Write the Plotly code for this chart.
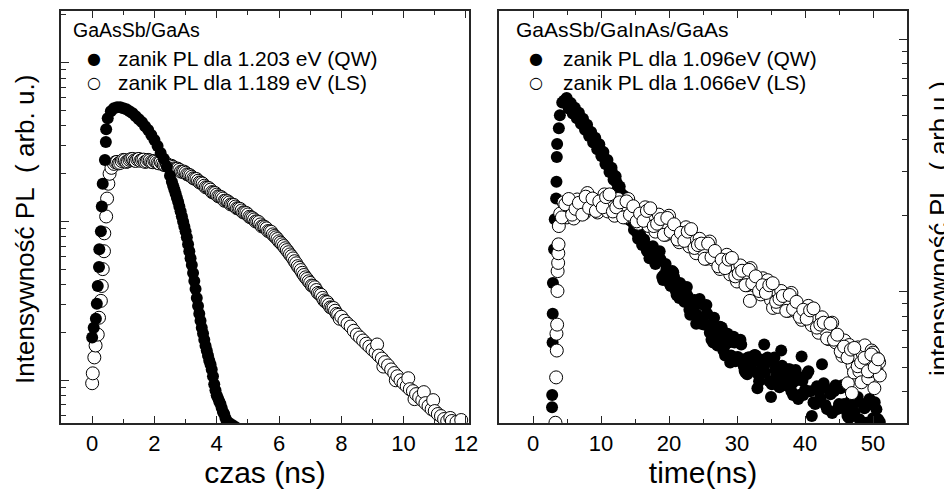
import plotly.graph_objects as go

# ---------------- data ----------------
# Left panel: GaAsSb/GaAs, time in ns, PL intensity in arb. units
left_qw_t = [0.00, 0.05, 0.12, 0.15, 0.18, 0.22, 0.23, 0.28, 0.31, 0.34, 0.41, 0.44, 0.45,
             0.5, 0.6, 0.7, 0.8, 0.9, 1.0, 1.1, 1.2, 1.3, 1.4, 1.5, 1.6, 1.7, 1.8, 1.9, 2.0,
             2.1, 2.2, 2.3, 2.4, 2.5,
             2.56, 2.60, 2.64, 2.68, 2.72, 2.76, 2.80, 2.84, 2.88, 2.92, 2.96, 3.00, 3.04,
             3.08, 3.12, 3.16, 3.20, 3.24, 3.28, 3.32, 3.36, 3.40, 3.44, 3.48, 3.52, 3.56,
             3.60, 3.64, 3.68, 3.72, 3.76, 3.80, 3.84, 3.88, 3.92, 3.96, 4.00, 4.04, 4.08,
             4.12, 4.16, 4.20, 4.24, 4.28, 4.32, 4.40, 4.50, 4.60]
left_qw_i = [18.6, 21.4, 24.4, 30.3, 39.2, 51.6, 66.8, 86.6, 124, 173, 244, 316, 381,
             447, 494, 516, 523, 523, 516, 508, 494, 480, 460, 440, 422, 398, 376, 350, 326,
             299, 270, 248, 221, 194,
             178, 168, 159, 150, 141, 133, 124, 116, 108, 100, 93.1, 86.6, 79.4,
             71.8, 64.9, 58.7, 53.1, 47.3, 42.2, 37.6, 33.0, 29.4, 26.2, 23.7, 21.4, 19.7,
             18.0, 16.5, 15.4, 14.3, 13.3, 12.6, 11.7, 10.6, 9.44, 8.66, 8.06, 7.72, 7.39,
             7.08, 6.68, 6.31, 6.13, 5.79, 5.54, 5.38, 5.23, 5.08]

left_ls_t = [0.00, 0.02, 0.07, 0.11, 0.18, 0.22, 0.28, 0.31, 0.34, 0.38, 0.39, 0.45, 0.48,
             0.52, 0.56, 0.62,
             0.7, 0.75, 0.8, 0.85, 0.9, 0.95, 1.0, 1.05, 1.1, 1.15, 1.2, 1.25, 1.3, 1.35,
             1.4, 1.45, 1.5, 1.55, 1.6, 1.65, 1.7, 1.75, 1.8, 1.85, 1.9, 1.95, 2.0, 2.05,
             2.1, 2.15, 2.2, 2.25, 2.3, 2.35, 2.4, 2.45, 2.5, 2.55, 2.6, 2.65, 2.7, 2.75,
             2.8, 2.85, 2.9, 2.95, 3.0, 3.05, 3.1, 3.15, 3.2, 3.25, 3.3, 3.35, 3.4, 3.45,
             3.5, 3.55, 3.6, 3.65, 3.7, 3.75, 3.8, 3.85, 3.9, 3.95, 4.0, 4.05, 4.1, 4.15,
             4.2, 4.25, 4.3, 4.35, 4.4, 4.45, 4.5, 4.55, 4.6, 4.65, 4.7, 4.75, 4.8, 4.85,
             4.9, 4.95, 5.0, 5.05, 5.1, 5.15, 5.2, 5.25, 5.3, 5.35, 5.4, 5.45, 5.5, 5.55,
             5.6, 5.65, 5.7, 5.75, 5.8, 5.85, 5.9, 5.95, 6.0, 6.05, 6.1, 6.15, 6.2, 6.25,
             6.3, 6.35, 6.4, 6.45, 6.5, 6.55, 6.6, 6.65, 6.7, 6.75, 6.8, 6.85, 6.9, 6.95,
             7.0, 7.05, 7.1, 7.15, 7.2, 7.25, 7.3, 7.35, 7.4, 7.45, 7.5, 7.55, 7.6, 7.65,
             7.7, 7.75, 7.8, 7.85, 7.9, 7.95, 8.0, 8.1, 8.2, 8.3, 8.4, 8.5,
             8.6, 8.7, 8.8, 8.9, 9.0, 9.1, 9.15, 9.2, 9.3, 9.35, 9.4, 9.5, 9.6, 9.7, 9.75,
             9.8, 9.9, 10.0, 10.1, 10.15, 10.2, 10.3, 10.35, 10.4, 10.5, 10.6, 10.65, 10.7,
             10.8, 10.9, 10.95, 11.0, 11.1, 11.2, 11.3, 11.4, 11.5, 11.55, 11.7, 11.85]
left_ls_i = [9.58, 11.06, 13.93, 16.55, 19.39, 24.76, 31.62, 39.24, 50.1, 64.94, 84.2, 107.5,
             139.3, 172.8, 199.6, 217.5,
             230.4, 236, 237.1, 232, 233.7, 240, 244.0, 243, 237.1, 239, 244.0, 247, 247.5, 242,
             240.5, 246, 247.5, 241, 244.0, 245, 237.1, 239, 244.0, 242, 237.1, 236, 240.5, 238,
             233.7, 232, 237.1, 232, 227.1, 226, 230.4, 222, 220.7, 224, 220.7, 216, 214.5, 215,
             211.4, 206, 205.4, 206, 202.5, 198, 196.7, 195, 191.1, 187, 185.7, 185, 180.4, 176,
             175.3, 173, 167.9, 164, 163.1, 162, 158.5, 153, 151.8, 151, 147.5, 144, 143.3, 142,
             139.3, 135, 135.3, 134, 131.5, 128, 127.7, 127, 124.1, 121, 120.6, 120, 117.2, 114,
             113.8, 113, 110.6, 107, 105.9, 105, 102.9, 100, 100.0, 99, 95.8, 93, 93.1, 92,
             90.4, 87, 86.6, 86, 82.9, 81, 79.4, 77.5, 75.0, 73.5, 71.8, 70, 67.8, 66,
             64.0, 62, 60.4, 58.5, 56.2, 54.5, 52.3, 51, 49.4, 47.5, 46.0, 44.5, 43.4, 42,
             41.0, 39.5, 39.2, 38.5, 37.0, 35.5, 35.0, 34.5, 33.0, 31.8, 31.2, 31.0, 29.9, 28.8,
             28.6, 28.5, 27.4, 26.2, 25.8, 24.4, 25.1, 23.7, 22.7, 21.8, 20.5, 19.4,
             18.6, 17.8, 17.0, 16.3, 15.6, 15.0, 16.8, 14.3, 13.7, 12.2, 13.0, 12.4, 11.7, 11.1,
             10.0,
             10.6, 10.0, 9.58, 9.18, 10.3, 8.79, 8.54, 7.61, 8.18, 7.83, 7.50, 8.42, 7.18,
             6.88, 6.58, 7.50, 6.40, 6.13, 5.95, 5.70, 5.54, 5.79, 5.54, 5.46, 5.62]

# Right panel: GaAsSb/GaInAs/GaAs
right_qw_t = [2.80, 2.82, 2.88, 2.90, 2.93, 3.10, 3.20, 3.40, 3.45, 3.50, 3.55, 3.80, 3.95,
              4.30, 4.60,
              4.8, 4.95, 5.1, 5.25, 5.4, 5.55, 5.7, 5.85, 6.0, 6.15, 6.3, 6.45, 6.6, 6.75,
              6.9, 7.05, 7.2, 7.35, 7.5, 7.65, 7.8, 7.95, 8.1, 8.25, 8.4, 8.55, 8.7, 8.85,
              9.0, 9.15, 9.3, 9.45, 9.6, 9.75, 9.9, 10.05, 10.2, 10.35, 10.5, 10.65, 10.8,
              10.95, 11.1, 11.25, 11.4, 11.55, 11.7, 11.85, 12.0, 12.15, 12.3, 12.45, 12.6,
              12.75, 12.9, 13.05, 13.2, 13.35, 13.5, 13.65, 13.8, 13.95, 14.1, 14.25, 14.4,
              14.55, 14.7, 14.85, 15.0, 15.15, 15.3, 15.45, 15.6, 15.75, 15.9, 16.05, 16.2,
              16.35, 16.5, 16.75,
              17.0, 17.125, 17.25, 17.5, 17.625, 17.75, 18.0, 18.125, 18.25, 18.5, 18.625,
              18.75, 19.0, 19.125, 19.25, 19.5, 19.625, 19.75, 20.0, 20.125, 20.25, 20.5,
              20.625, 20.75, 21.0, 21.125, 21.25, 21.5, 21.625, 21.75, 22.0, 22.125, 22.25,
              22.5, 22.625, 22.75, 23.0, 23.125, 23.25, 23.5, 23.625, 23.75, 24.0, 24.125,
              24.25, 24.5, 24.625, 24.75, 25.0, 25.125, 25.25, 25.5, 25.625, 25.75, 26.0,
              26.125, 26.25, 26.5, 26.625, 26.75, 27.0, 27.125, 27.25, 27.5, 27.625, 27.75,
              28.0, 28.125, 28.25, 28.5, 28.625, 28.75, 29.0, 29.125, 29.25, 29.5, 29.625,
              29.75, 30.0, 30.125, 30.25, 30.5, 30.625, 30.75, 31.0, 31.125, 31.25, 31.5,
              31.625, 31.75, 32.0, 32.125, 32.25, 32.5, 32.625, 32.75, 33.0, 33.125, 33.25,
              33.5, 33.625, 33.75, 34.0, 34.125, 34.25, 34.5, 34.625, 34.75, 35.0, 35.125,
              35.25, 35.5, 35.625, 35.75, 36.0, 36.125, 36.25, 36.5, 36.625, 36.75, 37.0,
              37.125, 37.25, 37.5, 37.625, 37.75, 38.0, 38.125, 38.25, 38.5, 38.625, 38.75,
              39.0, 39.125, 39.25, 39.5, 39.625, 39.75, 40.0, 40.25, 40.5, 40.75,
              41.0, 41.25, 41.5, 41.75, 42.0, 42.25, 42.5, 42.75, 43.0, 43.25, 43.5, 43.75,
              44.0, 44.25, 44.5, 44.75, 45.0, 45.25, 45.5, 45.75, 46.0, 46.25, 46.5, 46.75,
              47.0, 47.25, 47.5, 47.75, 48.0, 48.25, 48.5, 48.75, 49.0, 49.25, 49.5, 49.75,
              50.0, 50.25, 50.5, 50.75, 51.0]
right_qw_i = [3.48, 3.89, 6.29, 8.17, 10.82, 14.72, 19.35, 23.4, 27.3, 34.2, 38.5, 44.5, 50.1,
              56.3, 57.3,
              57.3, 58.6, 55.8, 53.3, 54.8, 56.0, 53.3, 50.9, 52.4, 53.6, 51.0, 48.7, 50.1, 51.2,
              48.7, 46.3, 47.4, 48.5, 46.2, 43.9, 44.9, 45.9, 43.7, 41.4, 42.1, 43.0, 41.0, 39.0,
              39.9, 40.8, 38.8, 36.7, 37.5, 38.4, 36.5, 34.5, 35.2, 35.8, 33.9, 32.1, 32.7,
              33.3, 31.5, 29.8, 30.4, 31.0, 29.4, 27.8, 28.3, 28.7, 27.1, 25.5, 25.8,
              26.1, 24.7, 23.2, 23.6, 24.0, 22.6, 21.2, 21.4, 21.7, 20.4, 19.2, 19.5,
              19.8, 18.7, 17.6, 17.8, 18.0, 17.1, 16.2, 16.5, 16.9, 16.1, 15.3, 15.7,
              16.1, 15.3, 14.5,
              14.72, 13.57, 13.94, 14.86, 15.13, 14.46, 12.86, 13.21, 13.33, 13.45, 14.46,
              13.45, 11.42, 11.12, 11.63, 12.86, 12.28, 12.06, 11.22, 10.72, 10.53, 12.06,
              11.95, 11.42, 10.06, 9.70, 9.97, 9.44, 10.82, 10.63, 9.79, 9.44, 9.11,
              9.88, 10.44, 9.61, 8.47, 8.09, 8.31, 9.11, 9.11, 9.27, 7.46, 8.09,
              8.94, 9.36, 9.02, 7.46, 7.73, 7.40, 8.78, 8.86, 8.17, 7.33, 6.87,
              7.13, 6.45, 6.29, 7.87, 7.26, 6.87, 6.12, 6.40, 7.26, 6.87, 7.20,
              5.84, 6.06, 5.58, 6.57, 6.81, 6.29, 5.24, 5.58, 6.34, 6.63, 6.29,
              5.29, 5.48, 5.50, 6.29, 6.45, 6.17, 5.38, 5.06, 4.85, 4.78, 4.70,
              5.48, 5.48, 5.20, 4.92, 4.87, 5.58, 5.61, 5.58, 4.14, 4.70, 4.41,
              5.24, 5.37, 5.06, 6.17, 4.78, 5.20, 5.48, 5.41, 4.41, 3.82, 4.29,
              5.34, 5.48, 4.92, 4.61, 4.37, 4.45, 4.18, 5.84, 5.08, 4.78, 4.57,
              4.25, 4.29, 4.92, 4.85, 4.92, 4.03, 4.33, 3.89, 4.61, 4.89, 4.45,
              3.75, 3.89, 4.57, 5.53, 4.43, 3.89, 4.07, 4.70, 4.83, 4.03,
              3.21, 3.64, 3.58, 4.21, 4.03, 3.79, 5.15, 4.33, 3.55, 3.42, 4.07, 3.92,
              3.30, 4.03, 4.25, 3.42, 3.58, 4.14, 4.25, 3.58, 3.39, 3.21, 3.15, 3.71,
              3.55, 3.33, 3.82, 3.82, 3.12, 3.02, 3.58, 3.45, 3.02, 3.55, 3.75, 3.02,
              3.15, 3.64, 3.42, 3.12, 3.04]

right_ls_t = [3.30, 3.40, 3.45, 3.50, 3.55, 3.60, 3.62, 3.70, 3.72, 3.75, 3.80,
              4.0, 4.5, 5.0, 5.5, 6.0, 6.5, 7.0, 7.5, 8.0, 8.5, 9.0, 9.5, 10.0, 10.5, 11.0,
              11.5, 12.0, 12.5, 13.0, 13.5, 14.0, 14.5, 15.0, 15.5, 16.0, 16.5, 17.0, 17.5,
              18.0, 18.5, 19.0, 19.5, 20.0, 20.5, 21.0, 21.5, 22.0, 22.5, 23.0, 23.5, 24.0,
              24.5, 25.0, 25.5, 26.0, 26.5, 27.0, 27.5, 28.0, 28.5, 29.0, 29.5, 30.0, 30.5,
              31.0, 31.5, 31.9, 32.0, 32.5, 33.0, 33.5, 33.8, 34.0, 34.5, 35.0, 35.3, 35.5,
              36.0, 36.5, 37.0, 37.5, 38.0, 38.5, 39.0, 39.5, 40.0, 40.5, 41.0, 41.5, 42.0,
              42.5, 43.0, 43.5, 44.0, 44.5, 45.0, 45.5, 45.8, 46.0, 46.3, 46.5, 46.9, 47.0,
              47.2, 47.5, 47.8, 48.0, 48.3, 48.5, 48.8, 49.0, 49.3, 49.5, 49.8, 50.0, 50.2,
              50.5, 50.6, 50.9, 51.0,
              4.25, 4.75, 5.25, 5.75, 6.25, 6.75, 7.25, 7.75, 8.25, 8.75, 9.25, 9.75, 10.25,
              10.75, 11.25, 11.75, 12.25, 12.75, 13.25, 13.75, 14.25, 14.75, 15.25, 15.75,
              16.25, 16.75, 17.25, 17.75, 18.25, 18.75, 19.25, 19.75, 20.25, 20.75, 21.25,
              21.75, 22.25, 22.75, 23.25, 23.75, 24.25, 24.75, 25.25, 25.75, 26.25, 26.75,
              27.25, 27.75, 28.25, 28.75, 29.25, 29.75, 30.25, 30.75, 31.25, 31.75, 32.25,
              32.75, 33.25, 33.75, 34.25, 34.75, 35.25, 35.75, 36.25, 36.75, 37.25, 37.75,
              38.25, 38.75, 39.25, 39.75, 40.25, 40.75, 41.25, 41.75, 42.25, 42.75, 43.25,
              43.75, 44.25, 44.75, 45.25, 45.75, 46.25, 46.75, 47.25, 47.75, 48.25, 48.75,
              49.25, 49.75, 50.25, 50.75]
right_ls_i = [3.02, 4.57, 6.81, 5.84, 7.40, 10.06, 12.06, 13.0, 14.2, 15.4, 18.2,
              20.4, 22.6, 19.7, 22.2, 19.5, 23.2, 21.4, 20.4, 24.6, 21.4, 22.9, 20.6, 22.6,
              24.3, 20.8, 23.0, 20.0, 23.3, 21.1, 19.7, 23.3, 19.9, 21.0, 18.6, 20.1, 21.6,
              18.2, 20.1, 17.3, 20.2, 18.2, 16.8, 20.0, 17.0, 17.8, 15.7, 16.8, 18.0, 15.1,
              16.5, 14.2, 16.2, 14.6, 13.5, 15.8, 13.4, 14.0, 12.3, 13.1, 14.0, 11.7, 12.8,
              10.97, 12.7, 11.4, 10.6, 9.19, 12.4, 10.6, 11.1, 9.75, 11.3, 10.4, 11.1, 9.27,
              8.62, 10.2, 8.70, 10.06, 8.98, 8.39, 9.88, 8.39, 8.78, 7.73, 8.28, 8.78, 7.36,
              8.02, 6.87, 7.91, 7.04, 6.48, 7.53, 6.29, 6.45, 5.56, 6.40, 5.84, 4.33, 6.14,
              3.96, 5.10, 4.78, 5.61, 6.01, 4.83, 4.37, 5.66, 6.12, 5.15, 4.53, 4.83, 5.84,
              5.73, 4.14, 4.92, 5.43, 5.24, 4.65,
              19.7, 22.2, 23.3, 20.2, 21.3, 22.5, 20.2, 23.8, 21.5, 23.4, 20.9, 22.8, 21.6,
              23.7, 24.3, 20.8, 21.6, 22.6, 19.7, 22.8, 20.2, 21.8, 19.0, 20.4,
              19.1, 20.9, 21.4, 18.2, 18.6, 19.4, 16.8, 19.6, 17.3, 18.5, 16.1,
              17.1, 15.9, 17.3, 17.7, 14.9, 15.3, 15.5, 13.5, 15.5, 13.7, 14.5,
              12.6, 13.4, 12.4, 13.4, 13.6, 11.5, 11.8, 12.1, 10.6, 12.2, 10.8,
              11.5, 10.06, 10.6, 9.88, 10.6, 10.8, 9.11, 9.36, 9.61, 8.39, 9.70,
              8.54, 9.11, 7.95, 8.47, 7.81, 8.43, 8.58, 7.20, 7.40, 7.53, 6.52,
              7.46, 6.45, 6.75, 5.79, 6.05, 5.48, 5.89, 5.98, 5.06, 5.24, 5.46,
              4.83, 5.63, 5.02, 5.39]

left_x_ticks = [0, 2, 4, 6, 8, 10, 12]
right_x_ticks = [0, 10, 20, 30, 40, 50]

left_title = "GaAsSb/GaAs"
left_names = ["zanik PL dla 1.203 eV (QW)", "zanik PL dla 1.189 eV (LS)"]
right_title = "GaAsSb/GaInAs/GaAs"
right_names = ["zanik PL dla 1.096eV (QW)", "zanik PL dla 1.066eV (LS)"]
left_ylabel = "Intensywność PL\u00a0\u00a0( arb. u.)"
right_ylabel = "intensywność PL\u00a0\u00a0( arb.u.)"

# ---------------- figure ----------------
FONT = "Liberation Sans, Arial, Helvetica, sans-serif"
AXC = "#262626"
MS = 12

fig = go.Figure()

closed = dict(symbol="circle", size=MS, color="black", line=dict(width=0))
opened = dict(symbol="circle", size=MS + 1, color="white", line=dict(width=1, color="black"))

fig.add_trace(go.Scatter(x=left_ls_t, y=left_ls_i, mode="markers", name=left_names[1],
                         marker=opened, xaxis="x", yaxis="y", showlegend=False))
fig.add_trace(go.Scatter(x=left_qw_t, y=left_qw_i, mode="markers", name=left_names[0],
                         marker=closed, xaxis="x", yaxis="y", showlegend=False))
fig.add_trace(go.Scatter(x=right_qw_t, y=right_qw_i, mode="markers", name=right_names[0],
                         marker=closed, xaxis="x2", yaxis="y2", showlegend=False))
fig.add_trace(go.Scatter(x=right_ls_t, y=right_ls_i, mode="markers", name=right_names[1],
                         marker=opened, xaxis="x2", yaxis="y2", showlegend=False))

# the page body adds an 8 px offset, so the figure is 8 px smaller than the window
OFF = 8
W, H = 952 - OFF, 491 - OFF
ML, MR, MT, MB = 61 - OFF, 45, 1, 68
PW, PH = W - ML - MR, H - MT - MB


def px(xs):
    # screen x -> paper fraction
    return (xs - OFF - ML) / PW


def py(ys):
    # screen y -> paper fraction
    return (H - MB - (ys - OFF)) / PH


def minor_log(decades):
    return [m * 10 ** d for d in decades for m in range(2, 10)]


xcommon = dict(showline=True, linecolor=AXC, linewidth=1.5, mirror="ticks",
               ticks="inside", ticklen=7, tickwidth=1.2, tickcolor=AXC,
               showgrid=False, zeroline=False,
               tickfont=dict(family=FONT, size=22, color="black"),
               title_font=dict(family=FONT, size=30, color="black"))
ycommon = dict(type="log", showline=True, linecolor=AXC, linewidth=1.5, mirror=True,
               ticks="inside", ticklen=8, tickwidth=1.2, tickcolor=AXC,
               showticklabels=False, showgrid=False, zeroline=False)

fig.update_layout(
    width=W, height=H,
    margin=dict(l=ML, r=MR, t=MT, b=MB),
    paper_bgcolor="white", plot_bgcolor="white",
    font=dict(family=FONT, color="black"),
    showlegend=False,
    xaxis=dict(domain=[0, 408 / PW], range=[-1, 12.1], anchor="y",
               tickmode="array", tickvals=left_x_ticks,
               minor=dict(ticks="inside", ticklen=4, tickwidth=1.2, tickcolor=AXC,
                          tickmode="array", tickvals=[-1, 1, 3, 5, 7, 9, 11]),
               title=dict(text="czas (ns)", standoff=4), **xcommon),
    yaxis=dict(domain=[0, 1], range=[0.731, 3.325], anchor="x",
               tickmode="array", tickvals=[10, 100, 1000],
               minor=dict(ticks="inside", ticklen=5, tickwidth=1.2, tickcolor=AXC,
                          tickmode="array", tickvals=minor_log([0, 1, 2, 3])),
               **ycommon),
    xaxis2=dict(domain=[438 / PW, 1], range=[-5, 55], anchor="y2",
                tickmode="array", tickvals=right_x_ticks,
                minor=dict(ticks="inside", ticklen=4, tickwidth=1.2, tickcolor=AXC,
                           tickmode="array", tickvals=[-5, 5, 15, 25, 35, 45, 55]),
                title=dict(text="time(ns)", standoff=4), **xcommon),
    yaxis2=dict(domain=[0, 1], range=[0.479, 2.113], anchor="x2", side="right",
                tickmode="array", tickvals=[10, 100],
                minor=dict(ticks="inside", ticklen=5, tickwidth=1.2, tickcolor=AXC,
                           tickmode="array", tickvals=minor_log([0, 1, 2])),
                **ycommon),
)

ann = []


def add_text(xs, ys, text, size, anchor="left", family=FONT, angle=0):
    ann.append(dict(x=px(xs), y=py(ys), xref="paper", yref="paper", text=text,
                    showarrow=False, xanchor=anchor, yanchor="middle", textangle=angle,
                    font=dict(family=family, size=size, color="black")))


# axis titles on the log axes
add_text(25, 229, left_ylabel, 26, anchor="center", angle=-90)
add_text(939, 228, right_ylabel, 25.5, anchor="center", angle=-90)

# in-plot legends
add_text(71, 28, left_title, 19.5)
add_text(94, 57, "\u25cf", 16, anchor="center", family="DejaVu Sans")
add_text(94, 81, "\u25cb", 16, anchor="center", family="DejaVu Sans")
add_text(116, 57, left_names[0], 21)
add_text(116, 81, left_names[1], 21)

add_text(514, 28, right_title, 21)
add_text(536, 57, "\u25cf", 16, anchor="center", family="DejaVu Sans")
add_text(536, 81, "\u25cb", 16, anchor="center", family="DejaVu Sans")
add_text(561, 57, right_names[0], 21)
add_text(561, 81, right_names[1], 21)

fig.update_layout(annotations=ann)

fig.write_html("out.html")
